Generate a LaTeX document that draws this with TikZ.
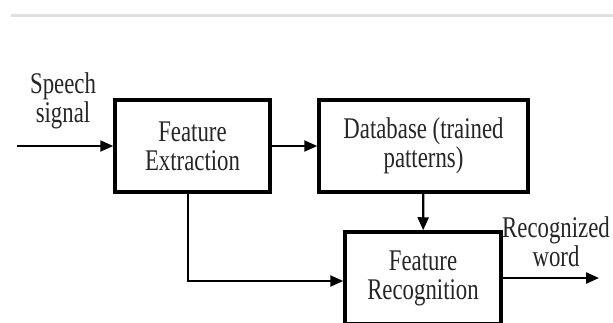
\documentclass[tikz,border=0pt]{standalone}
\usepackage{fontspec}
\setmainfont{Liberation Serif}[FakeStretch=0.76]
\usetikzlibrary{arrows.meta}

\begin{document}
\begin{tikzpicture}[x=0.5pt,y=-0.5pt,>/.tip={Triangle[length=6.5pt,width=5.5pt]},
	box/.style={draw,line width=1.75pt,shape=rectangle,inner sep=0pt,align=center,minimum width=#1,minimum height=46pt},
	txt/.style={font=\fontsize{15}{14.5}\selectfont,text=black!85},
	every node/.style={txt}]
	\path[use as bounding box,clip] (0,0) rectangle (613,322);
	\draw[line width=1.5pt,black!12] (11,15) -- (613,15);

	\draw (192.5,146) node (ext) [box=77.5pt] {Feature\\Extraction};
	\draw (423.5,146) node (db) [box=104.5pt] {Database (trained\\patterns)};
	\draw (423,278) node (rec) [box=78pt] {Feature\\Recognition};

	\draw (63,101) node (sig) [align=center] {Speech\\signal};
	\draw (556,242) node (word) [align=center] {Recognized\\word};

	\coordinate (in) at (17,146);
	\coordinate (out) at (599,278);

	\draw[->,line width=1.1pt] (in) -- (ext);
	\draw[->,line width=1.1pt] (ext) -- (db);
	\draw[->,line width=1.1pt] (db) -- (rec);
	\draw[->,line width=1.1pt] (ext.south -| 188,0) |- ([yshift=-1.5pt]rec.west);
	\draw[->,line width=1.1pt] (rec) -- (out);
\end{tikzpicture}
\end{document}
